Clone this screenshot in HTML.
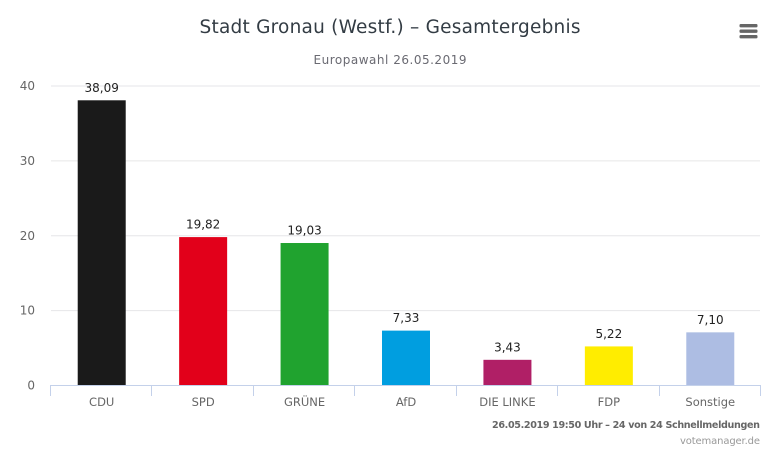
<!DOCTYPE html>
<html lang="de">
<head>
<meta charset="utf-8">
<title>Stadt Gronau (Westf.) – Gesamtergebnis</title>
<style>
html,body{margin:0;padding:0;background:#fff;width:780px;height:455px;overflow:hidden}
svg{display:block}
text{font-family:"DejaVu Sans","Liberation Sans",sans-serif}
</style>
</head>
<body>
<svg id="chart" width="780" height="455" viewBox="0 0 780 455" xmlns="http://www.w3.org/2000/svg">
<rect width="780" height="455" fill="#fff"/>
<text x="390" y="33" text-anchor="middle" font-size="18.5" fill="#333c44" textLength="381" lengthAdjust="spacing">Stadt Gronau (Westf.) – Gesamtergebnis</text>
<text x="390" y="64" text-anchor="middle" font-size="12" fill="#6a6a72" textLength="153" lengthAdjust="spacing">Europawahl 26.05.2019</text>
<g>
<rect x="739.5" y="24" width="18" height="3.4" rx="1.2" fill="#666"/>
<rect x="739.5" y="29.5" width="18" height="3.4" rx="1.2" fill="#666"/>
<rect x="739.5" y="35" width="18" height="3.4" rx="1.2" fill="#666"/>
</g>
<g id="grid"></g>
<g id="bars"></g>
<g id="xaxis"></g>
<text x="760" y="428" text-anchor="end" font-size="9.6" font-weight="bold" fill="#666" textLength="268" lengthAdjust="spacing">26.05.2019 19:50 Uhr – 24 von 24 Schnellmeldungen</text>
<text x="760" y="444" text-anchor="end" font-size="10" fill="#999" textLength="80" lengthAdjust="spacing">votemanager.de</text>
</svg>
<script>
const categories = ["CDU", "SPD", "GRÜNE", "AfD", "DIE LINKE", "FDP", "Sonstige"];
const seriesValues = [38.09, 19.82, 19.03, 7.33, 3.43, 5.22, 7.10];
const printedValues = ["38,09", "19,82", "19,03", "7,33", "3,43", "5,22", "7,10"];
const barColors = ["#1a1a1a", "#e2001a", "#20a32f", "#009ee0", "#b01f66", "#ffed00", "#adbde3"];
const yTicks = [0, 10, 20, 30, 40];

const NS = "http://www.w3.org/2000/svg";
const plotLeft = 51, plotRight = 761, plotBottom = 385.5, plotTop = 86, yMax = 40, barWidth = 48;
function yScale(v) { return plotBottom - (v / yMax) * (plotBottom - plotTop); }
function bandWidth() { return (plotRight - plotLeft) / categories.length; }
function xScale(i) { return plotLeft + bandWidth() * (i + 0.5); }
function make(tag, attrs, parent, content) {
  const el = document.createElementNS(NS, tag);
  for (const k in attrs) el.setAttribute(k, attrs[k]);
  if (content !== undefined) el.textContent = content;
  parent.appendChild(el);
  return el;
}
const grid = document.getElementById("grid");
const bars = document.getElementById("bars");
const xaxis = document.getElementById("xaxis");

yTicks.forEach(function (t) {
  const y = yScale(t);
  if (t !== 0) {
    const line = make("line", {x1: plotLeft, x2: plotRight - 1, y1: y, y2: y, stroke: "#e6e6e8", "stroke-width": 1}, grid);
    
    
  }
  const label = make("text", {x: 35, y: y + 4, "text-anchor": "end", "font-size": 12, fill: "#666"}, grid, String(t));
  
  
});

seriesValues.forEach(function (v, i) {
  const top = yScale(v);
  const cx = xScale(i);
  const bar = make("rect", {x: cx - barWidth / 2, y: top, width: barWidth, height: plotBottom - top, fill: barColors[i]}, bars);
  
  
  const val = make("text", {x: cx, y: top - 8.5, "text-anchor": "middle", "font-size": 12, fill: "#222"}, bars, printedValues[i]);
  
  
});

const baseline = make("line", {x1: plotLeft, x2: plotRight, y1: 385.5, y2: 385.5, stroke: "#c4d1ea", "stroke-width": 1}, xaxis);


for (let i = 0; i <= categories.length; i++) {
  const tx = Math.round(plotLeft + bandWidth() * i) - 0.5;
  const tick = make("line", {x1: tx, x2: tx, y1: 385, y2: 396, stroke: "#c4d1ea", "stroke-width": 1}, xaxis);
  
  
}
categories.forEach(function (c, i) {
  const label = make("text", {x: xScale(i), y: 406, "text-anchor": "middle", "font-size": 11.5, fill: "#666"}, xaxis, c);
  
  
});
</script>
</body>
</html>
